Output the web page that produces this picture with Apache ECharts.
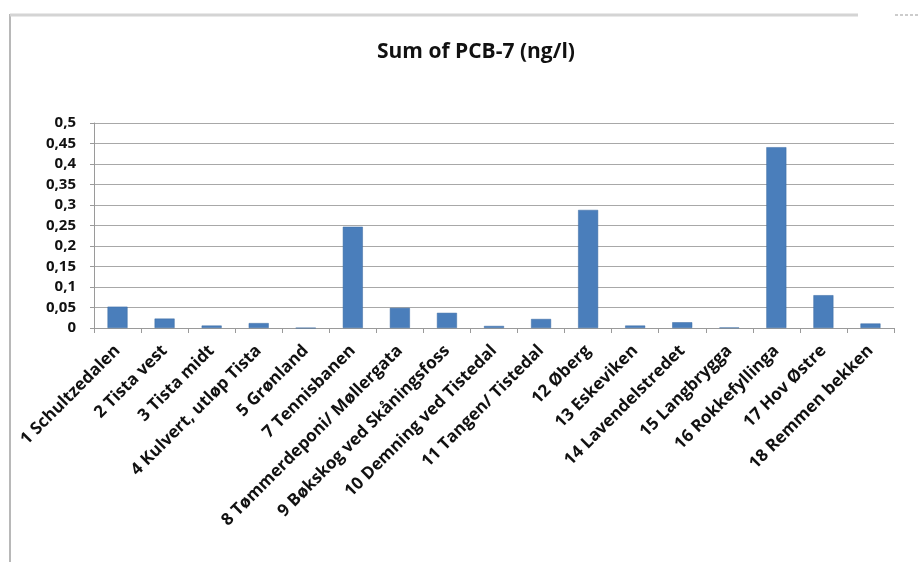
<!DOCTYPE html>
<html><head><meta charset="utf-8">
<script src="https://cdn.jsdelivr.net/npm/echarts@6/dist/echarts.min.js"></script>
<style>html,body{margin:0;padding:0;background:#fff}#c{width:920px;height:562px}</style>
</head><body><div id="c"></div>
<script>
const categories = ["1 Schultzedalen","2 Tista vest","3 Tista midt","4 Kulvert, utløp Tista","5 Grønland","7 Tennisbanen","8 Tømmerdeponi/ Møllergata","9 Bøkskog ved Skåningsfoss","10 Demning ved Tistedal","11 Tangen/ Tistedal","12 Øberg","13 Eskeviken","14 Lavendelstredet","15 Langbrygga","16 Rokkefyllinga","17 Hov Østre","18 Remmen bekken"];
const pcb7 = [0.052,0.023,0.006,0.012,0,0.247,0.049,0.037,0.005,0.022,0.288,0.006,0.014,0.001,0.441,0.080,0.011];
const yTicks = [0,0.05,0.1,0.15,0.2,0.25,0.3,0.35,0.4,0.45,0.5];
const titleText = "Sum of PCB-7 (ng/l)";

const chart = echarts.init(document.getElementById('c'), null, {renderer:'canvas'});
const FONT = "'Open Sans', 'Noto Sans', sans-serif";
chart.setOption({
  animation:false,
  backgroundColor:'#fff',
  title:{text:titleText,left:372,top:37,textStyle:{fontFamily:FONT,fontSize:21,fontWeight:'bold',color:'#111'}},
  graphic:[
    {type:'line',shape:{x1:10,y1:14,x2:10,y2:562},style:{stroke:'#b8b8b8',lineWidth:2}},
    {type:'line',shape:{x1:10,y1:15,x2:858,y2:15},style:{stroke:'#d4d4d4',lineWidth:3}},
    {type:'line',shape:{x1:895,y1:15,x2:920,y2:15},style:{stroke:'#999',lineWidth:1,lineDash:[3,2]}}
  ],
  grid:{left:94,right:26,top:123,bottom:234,containLabel:false},
  xAxis:{type:'category',data:categories,
    axisLine:{show:true,lineStyle:{color:'#9a9a9a',width:1}},
    axisTick:{show:true,alignWithLabel:false,length:5,lineStyle:{color:'#9a9a9a'}},
    axisLabel:{interval:0,rotate:45,fontFamily:FONT,fontSize:17,fontWeight:'bold',color:'#111',margin:20}},
  yAxis:{type:'value',min:0,max:0.5,interval:0.05,
    axisLine:{show:true,lineStyle:{color:'#9a9a9a'}},
    axisTick:{show:true,length:4,lineStyle:{color:'#9a9a9a'}},
    splitLine:{lineStyle:{color:'#a8a8a8',width:1}},
    axisLabel:{fontFamily:FONT,fontSize:15,fontWeight:'bold',color:'#111',margin:18,
      formatter:v=>{const t=yTicks.find(x=>Math.abs(x-v)<1e-9);return (t===undefined?v:t).toString().replace('.',',');}}},
  series:[{type:'bar',data:pcb7,barWidth:20,itemStyle:{color:'#4a7ebb',borderColor:'#3a6aa3',borderWidth:0.5}}]
});
</script></body></html>
